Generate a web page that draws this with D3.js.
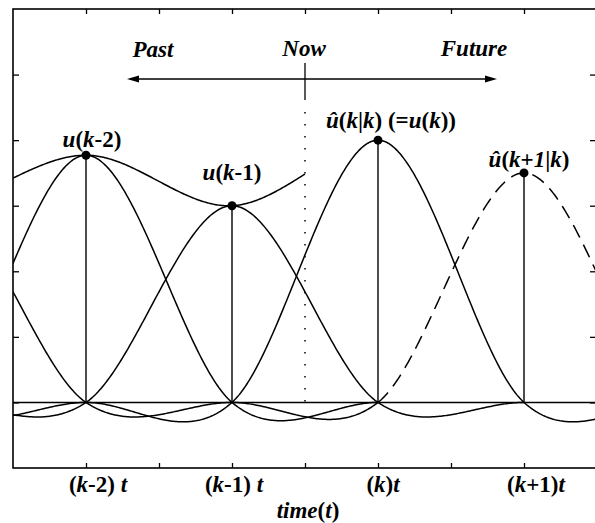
<!DOCTYPE html>
<html>
<head>
<meta charset="utf-8">
<script src="https://cdn.jsdelivr.net/npm/d3@7"></script>
<style>
  body { margin: 0; background: #fff; }
  text { font-family: "Liberation Serif", "Times New Roman", serif; font-weight: bold; fill: #000; }
</style>
</head>
<body>
<svg id="chart" width="595" height="523"></svg>
<script>
// sample instants in units of T, counted from (k-2)
const sampleNames = ["k-4", "k-3", "k-2", "k-1", "k", "k+1"];
const sampleTimes = [-2, -1, 0, 1, 2, 3];
const sampleValues = [3.2, 3.0, 3.77, 3.0, 4.0, 3.5];
const stemTimes = [0, 1, 2, 3];
const xTickValues = [0, 0.5, 1, 1.5, 2, 2.5, 3];
const yTickValues = [0, 1, 2, 3, 4, 5];
const nowTime = 1.5;

const svg = d3.select("#chart");
const x = d3.scaleLinear().domain([-0.5, 3.5]).range([13, 597]);
const y = d3.scaleLinear().domain([-1, 6]).range([468, 9]);

// cubic convolution kernel (Keys, a = -0.5)
function kernel(t) {
  t = Math.abs(t);
  if (t <= 1) return 1.5 * t * t * t - 2.5 * t * t + 1;
  if (t < 2) return -0.5 * t * t * t + 2.5 * t * t - 4 * t + 2;
  return 0;
}

svg.append("clipPath").attr("id", "plotClip")
  .append("rect")
  .attr("x", x(-0.5)).attr("y", y(6))
  .attr("width", x(3.5) - x(-0.5)).attr("height", y(-1) - y(6));

const plot = svg.append("g").attr("clip-path", "url(#plotClip)");
const line = d3.line().x(d => x(d[0])).y(d => y(d[1]));

function kernelPoints(i, from, to) {
  return d3.range(from, to + 0.0001, 0.01).map(t => [t, sampleValues[i] * kernel(t - sampleTimes[i])]);
}

// zero line
plot.append("line")
  .attr("x1", x(-0.5)).attr("x2", x(3.5))
  .attr("y1", y(0)).attr("y2", y(0))
  .attr("stroke", "#000").attr("stroke-width", 1.5);

// weighted kernels
sampleTimes.forEach((c, i) => {
  const last = i === sampleTimes.length - 1;
  if (!last) {
    plot.append("path")
      .attr("d", line(kernelPoints(i, Math.max(c - 2, -0.5), Math.min(c + 2, 3.5))))
      .attr("fill", "none").attr("stroke", "#000").attr("stroke-width", 1.5);
  } else {
    // predicted sample: side lobe solid, main lobe dashed
    plot.append("path")
      .attr("d", line(kernelPoints(i, c - 2, c - 1)))
      .attr("fill", "none").attr("stroke", "#000").attr("stroke-width", 1.5);
    plot.append("path")
      .attr("d", line(kernelPoints(i, c - 1, Math.min(c + 1, 3.5))))
      .attr("fill", "none").attr("stroke", "#000").attr("stroke-width", 1.5)
      .attr("stroke-dasharray", "14,8");
  }
});

// reconstructed signal up to "now"
const sumPoints = d3.range(-0.5, nowTime + 0.0001, 0.01).map(t =>
  [t, d3.sum(sampleTimes, (c, i) => sampleValues[i] * kernel(t - c))]);
plot.append("path")
  .attr("d", line(sumPoints))
  .attr("fill", "none").attr("stroke", "#000").attr("stroke-width", 1.5);

// stems and dots
stemTimes.forEach(t => {
  const v = sampleValues[sampleTimes.indexOf(t)];
  plot.append("line")
    .attr("x1", x(t)).attr("x2", x(t))
    .attr("y1", y(0)).attr("y2", y(v))
    .attr("stroke", "#000").attr("stroke-width", 1.4);
  plot.append("circle")
    .attr("cx", x(t)).attr("cy", y(v)).attr("r", 4.5)
    .attr("fill", "#000");
});

// frame and ticks
svg.append("rect")
  .attr("x", x(-0.5)).attr("y", y(6))
  .attr("width", x(3.5) - x(-0.5)).attr("height", y(-1) - y(6))
  .attr("fill", "none").attr("stroke", "#000").attr("stroke-width", 1.6);

function tickAxis(axis, tx, ty) {
  const g = svg.append("g").attr("transform", `translate(${tx},${ty})`).call(axis);
  g.select(".domain").remove();
  g.selectAll(".tick line").attr("stroke", "#000").attr("stroke-width", 1.3);
  g.selectAll(".tick text").remove();
}
tickAxis(d3.axisTop(x).tickValues(xTickValues).tickSize(-5), 0, y(6));
tickAxis(d3.axisBottom(x).tickValues(xTickValues).tickSize(-5), 0, y(-1));
tickAxis(d3.axisLeft(y).tickValues(yTickValues).tickSize(-6), x(-0.5), 0);
tickAxis(d3.axisRight(y).tickValues(yTickValues).tickSize(-7), x(3.5), 0);

// now marker
svg.append("line")
  .attr("x1", x(nowTime)).attr("x2", x(nowTime))
  .attr("y1", 63).attr("y2", 100)
  .attr("stroke", "#000").attr("stroke-width", 1.3);
svg.append("line")
  .attr("x1", x(nowTime)).attr("x2", x(nowTime))
  .attr("y1", 112).attr("y2", y(0))
  .attr("stroke", "#000").attr("stroke-width", 1.5)
  .attr("stroke-dasharray", "1.5,10.5");

// past / future arrow
svg.append("line")
  .attr("x1", 136).attr("x2", 488).attr("y1", 79).attr("y2", 79)
  .attr("stroke", "#000").attr("stroke-width", 1.3);
svg.append("path").attr("d", "M127,79 L139,75.5 L139,82.5 Z").attr("fill", "#000");
svg.append("path").attr("d", "M497,79 L485,75.5 L485,82.5 Z").attr("fill", "#000");

// rich text helper: segments of [text, italic]
function richText(px, py, segs, size, anchor) {
  const t = svg.append("text")
    .attr("x", px).attr("y", py)
    .attr("font-size", size)
    .attr("text-anchor", anchor || "middle");
  segs.forEach(s => t.append("tspan").text(s[0]).attr("font-style", s[1] ? "italic" : "normal"));
  return t;
}

const fs = 23;
richText(153, 57, [["Past", 1]], fs);
richText(304, 56, [["Now", 1]], fs);
richText(474, 56, [["Future", 1]], fs);

richText(x(0) + 6, 147, [["u", 1], ["(", 0], ["k", 1], ["-2)", 0]], fs);
richText(x(1), 180, [["u", 1], ["(", 0], ["k", 1], ["-1)", 0]], fs);
richText(x(2) + 13, 128, [["\u00fb", 1], ["(", 0], ["k", 1], ["|", 0], ["k", 1], [") (=", 0], ["u", 1], ["(", 0], ["k", 1], ["))", 0]], fs);
richText(x(3) + 5, 167, [["\u00fb", 1], ["(", 0], ["k", 1], ["+", 0], ["1", 1], ["|", 0], ["k", 1], [")", 0]], fs);

const bottomLabels = [
  [["(", 0], ["k", 1], ["-2) ", 0], ["t", 1]],
  [["(", 0], ["k", 1], ["-1) ", 0], ["t", 1]],
  [["(", 0], ["k", 1], [")", 0], ["t", 1]],
  [["(", 0], ["k", 1], ["+1)", 0], ["t", 1]]
];
const bottomShift = [12, 2, 5, 12];
stemTimes.forEach((t, i) => richText(x(t) + bottomShift[i], 492, bottomLabels[i], fs));

richText(308, 518, [["time", 1], ["(", 0], ["t", 1], [")", 0]], fs);
</script>
</body>
</html>
